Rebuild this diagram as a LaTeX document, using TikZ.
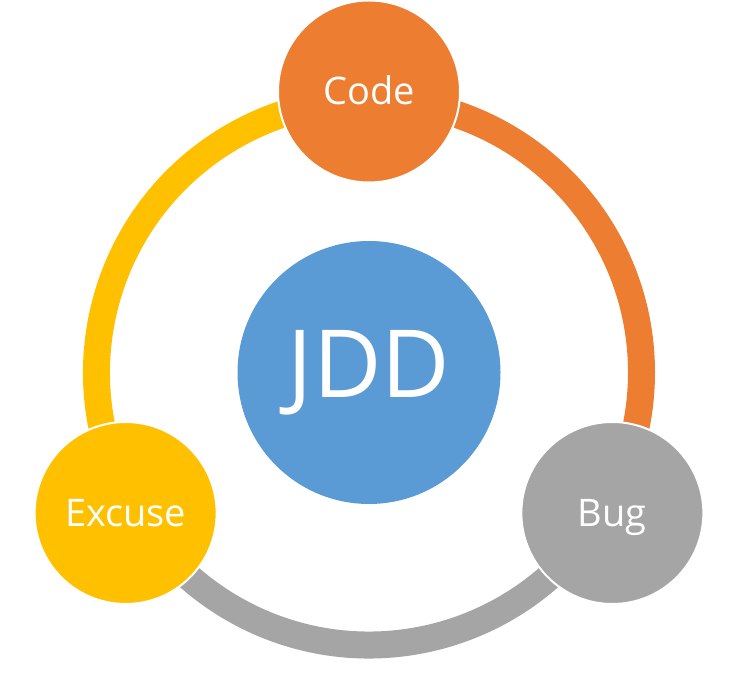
\documentclass[tikz,border=0pt]{standalone}
\usepackage{fontspec}
\setmainfont{Open Sans}
\usetikzlibrary{positioning}

\definecolor{jddblue}{HTML}{5B9BD5}
\definecolor{codeorange}{HTML}{ED7D31}
\definecolor{buggray}{HTML}{A5A5A5}
\definecolor{excuseyellow}{HTML}{FFC000}

\tikzset{
  stage/.style={circle, fill=#1, draw=white, line width=2pt,
    minimum size=182pt, inner sep=0pt, text=white, font=\fontsize{38}{46}\selectfont,
    text height=36.5pt, text depth=9.5pt},
  hub/.style={circle, fill=jddblue, minimum size=263pt, inner sep=0pt,
    text=white, font=\fontsize{94}{110}\selectfont},
  ringseg/.style={draw=#1, line width=27pt}
}

\begin{document}
\begin{tikzpicture}[x=1pt, y=1pt]
  \useasboundingbox (0,0) rectangle (742,680);
  \coordinate (ctr) at (369,307.5);
  % ring segments between the stages
  \draw[ringseg=codeorange] ([shift={(90:272.5)}]ctr) arc[start angle=90, end angle=-30, radius=272.5];
  \draw[ringseg=buggray] ([shift={(-30:272.5)}]ctr) arc[start angle=-30, end angle=-150, radius=272.5];
  \draw[ringseg=excuseyellow] ([shift={(210:272.5)}]ctr) arc[start angle=210, end angle=90, radius=272.5];
  % nodes
  \node[hub] (jdd) at (ctr) {JDD};
  \node[stage=codeorange] (code) at ([shift={(90:281)}]ctr) {Code};
  \node[stage=buggray] (bug) at ([shift={(-30:281)}]ctr) {Bug};
  \node[stage=excuseyellow] (excuse) at ([shift={(210:281)}]ctr) {Excuse};
\end{tikzpicture}
\end{document}
